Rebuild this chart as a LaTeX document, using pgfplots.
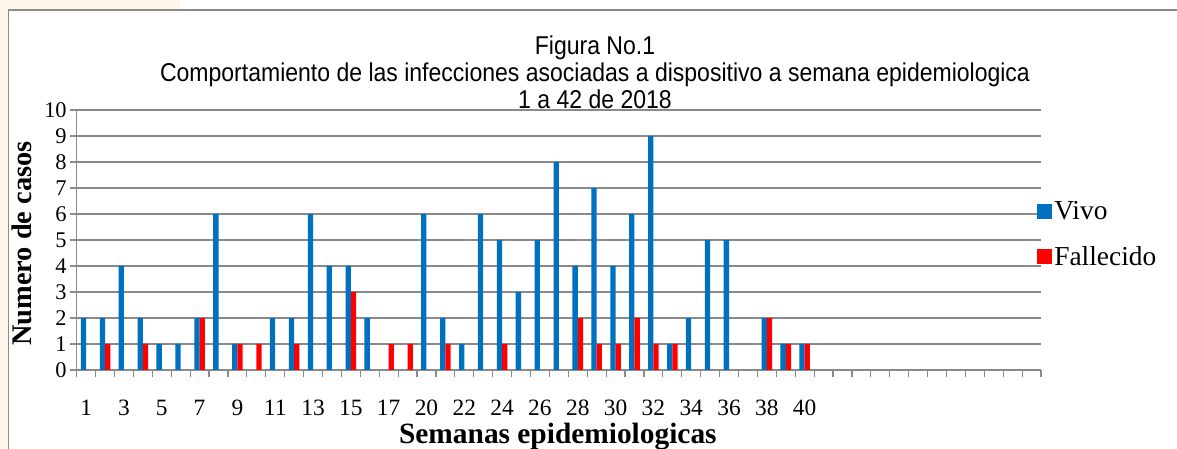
\documentclass[border=0pt]{standalone}
\usepackage{fontspec}
\setmainfont{Liberation Serif}
\newfontfamily\titlefont{Liberation Sans}
\usepackage{graphicx}
\usepackage{pgfplots}
\pgfplotsset{compat=1.18}
\definecolor{vivo}{HTML}{0070C0}
\definecolor{fall}{HTML}{FF0000}
\definecolor{gridc}{HTML}{8A8A8A}
\definecolor{cream}{HTML}{FFF6EA}

\pgfplotstableread{
x y
0 2
1 2
2 4
3 2
4 1
5 1
6 2
7 6
8 1
10 2
11 2
12 6
13 4
14 4
15 2
18 6
19 2
20 1
21 6
22 5
23 3
24 5
25 8
26 4
27 7
28 4
29 6
30 9
31 1
32 2
33 5
34 5
36 2
37 1
38 1
}\vivotable

\pgfplotstableread{
x y
1 1
3 1
6 2
8 1
9 1
11 1
14 3
16 1
17 1
19 1
22 1
26 2
27 1
28 1
29 2
30 1
31 1
36 2
37 1
38 1
}\falltable

\begin{document}
\begin{tikzpicture}
\useasboundingbox (0bp,0bp) rectangle (1177bp,449bp);
\fill[cream] (0bp,0bp) rectangle (8bp,449bp);
\fill[cream] (0bp,439bp) rectangle (180bp,449bp);
\draw[gridc, line width=1.3bp] (8.5bp,0bp) -- (8.5bp,439bp) -- (1177bp,439bp);
\begin{axis}[
  at={(76.7bp,79bp)}, anchor=south west,
  scale only axis, width=964.3bp, height=260bp,
  xmin=-0.5, xmax=50.5, ymin=0, ymax=10,
  ybar=0pt, bar width=5.3bp,
  axis x line*=bottom, axis y line*=left,
  axis line style={gridc, line width=1.3bp},
  ytick={0,1,...,10},
  ymajorgrids, grid style={gridc, line width=1.3bp},
  tick align=outside,
  major tick length=6.5bp,
  minor tick length=7bp,
  tick style={gridc, line width=1.2bp},
  major x tick style={draw=none},
  xtick={0,2,...,38},
  xticklabels={1,3,5,7,9,11,13,15,17,20,22,24,26,28,30,32,34,36,38,40},
  minor xtick={-0.5,0.5,...,50.5},
  /pgf/number format/assume math mode=true,
  xticklabel style={font=\fontsize{23.5}{23.5}\selectfont, yshift=-20bp},
  yticklabel style={font=\fontsize{22.5}{22.5}\selectfont},
  xlabel={Semanas epidemiologicas},
  ylabel={Numero de casos},
  xlabel style={font=\bfseries\fontsize{29.5}{29.5}\selectfont, at={(axis description cs:0.499,-0.255)}, anchor=center},
  ylabel style={font=\bfseries\fontsize{28.5}{28.5}\selectfont, at={(axis description cs:-0.057,0.486)}, anchor=center},
  title={\scalebox{1}[1.12]{Figura No.1}\\\scalebox{1}[1.12]{Comportamiento de las infecciones asociadas a dispositivo a semana epidemiologica}\\\scalebox{1}[1.12]{1 a 42 de 2018}},
  title style={at={(axis description cs:0.5375,1.122)}, anchor=center, align=center, font=\titlefont\fontsize{23.1}{27}\selectfont},
  legend style={at={(axis description cs:0.996,0.522)}, anchor=west, draw=none, fill=none,
    font=\fontsize{27.5}{29}\selectfont, row sep=21bp, inner sep=0pt, cells={anchor=west}},
  legend image code/.code={\fill[#1] (0bp,-7.5bp) rectangle (15bp,7.5bp);},
]
\addplot[fill=vivo, draw=none] table[x=x, y=y] {\vivotable};
\addplot[fill=fall, draw=none] table[x=x, y=y] {\falltable};
\legend{Vivo, Fallecido}
\end{axis}
\end{tikzpicture}
\end{document}
